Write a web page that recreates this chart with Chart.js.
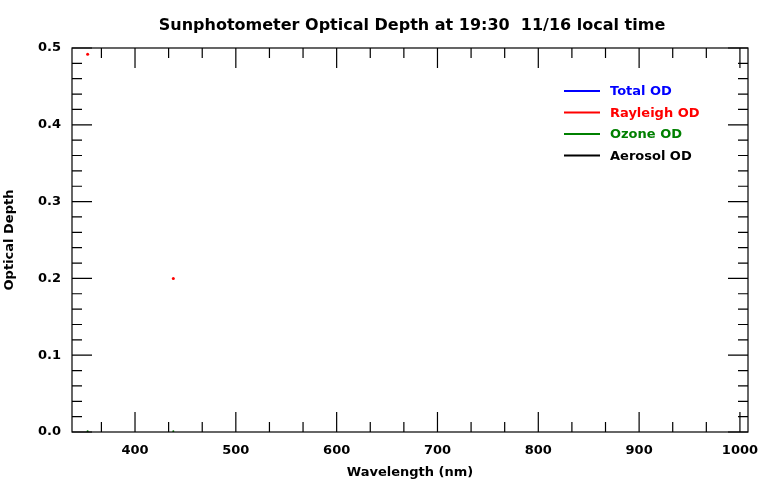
<!DOCTYPE html>
<html><head><meta charset="utf-8">
<script src="https://cdn.jsdelivr.net/npm/chart.js@4"></script>
<style>body{margin:0;background:#fff}#wrap{width:781px;height:480px}</style>
</head><body><div id="wrap"><canvas id="c"></canvas></div>
<script>
const rayleighNm = [353, 438];
const rayleighOD = [0.492, 0.2];
const ozoneNm = [353, 438];
const ozoneOD = [0.001, 0.001];
const seriesNames = ["Total OD", "Rayleigh OD", "Ozone OD", "Aerosol OD"];
const seriesColors = ["#0000ff", "#ff0000", "#008000", "#000000"];

const FONT = "DejaVu Sans";

/* inside ticks on all four sides, title, legend */
const decor = {
  id: "decor",
  afterDraw(ch) {
    const c = ch.ctx, a = ch.chartArea, x = ch.scales.x, y = ch.scales.y;
    c.save();
    c.strokeStyle = "#000"; c.lineWidth = 1.2;
    c.strokeRect(a.left, a.top, a.right - a.left, a.bottom - a.top);
    c.beginPath();
    for (let v = 300; v <= 1100; v += 100 / 3) {
      const px = x.getPixelForValue(v);
      if (px < a.left || px > a.right) continue;
      const major = Math.abs(v / 100 - Math.round(v / 100)) < 1e-6;
      const len = major ? 20 : 10;
      c.moveTo(px, a.bottom); c.lineTo(px, a.bottom - len);
      c.moveTo(px, a.top); c.lineTo(px, a.top + len);
    }
    for (let i = 0; i <= 25; i++) {
      const py = y.getPixelForValue(i * 0.02);
      const len = i % 5 === 0 ? 20 : 10;
      c.moveTo(a.left, py); c.lineTo(a.left + len, py);
      c.moveTo(a.right, py); c.lineTo(a.right - len, py);
    }
    c.stroke();
    c.fillStyle = "#000"; c.textAlign = "center"; c.textBaseline = "middle";
    c.font = "bold 16px " + FONT;
    c.fillText("Sunphotometer Optical Depth at 19:30  11/16 local time", 412, 26);
    c.font = "bold 13px " + FONT; c.textAlign = "left";
    seriesNames.forEach((n, i) => {
      const ly = 91 + i * 21.5;
      c.strokeStyle = seriesColors[i]; c.lineWidth = 2;
      c.beginPath(); c.moveTo(564, ly); c.lineTo(600, ly); c.stroke();
      c.fillStyle = seriesColors[i];
      c.fillText(n, 610, ly + 1);
    });
    c.restore();
  }
};

new Chart(document.getElementById("c"), {
  type: "scatter",
  data: {
    datasets: [
      { label: "Rayleigh OD", data: rayleighNm.map((v, i) => ({ x: v, y: rayleighOD[i] })),
        backgroundColor: "#ff0000", borderColor: "#ff0000", pointRadius: 1.5, pointBorderWidth: 0 },
      { label: "Ozone OD", data: ozoneNm.map((v, i) => ({ x: v, y: ozoneOD[i] })),
        backgroundColor: "#008000", borderColor: "#008000", pointRadius: 1, pointBorderWidth: 0 }
    ]
  },
  options: {
    responsive: true, maintainAspectRatio: false, animation: false,
    layout: { padding: { top: 48, right: 33, left: 0, bottom: 0 } },
    plugins: { legend: { display: false }, tooltip: { enabled: false } },
    scales: {
      x: {
        min: 337.5, max: 1008, afterFit: s => { s.height = 48; },
        grid: { display: false }, border: { display: false },
        ticks: { stepSize: 100, color: "#000", font: { family: FONT, size: 13, weight: "bold" }, maxRotation: 0,
          callback: v => (v % 100 === 0 ? v : "") },
        afterBuildTicks: s => { s.ticks = [400, 500, 600, 700, 800, 900, 1000].map(v => ({ value: v })); },
        title: { display: true, text: "Wavelength (nm)", color: "#000", padding: 0,
          font: { family: FONT, size: 13, weight: "bold" } }
      },
      y: {
        min: 0, max: 0.5, afterFit: s => { s.width = 72; },
        grid: { display: false }, border: { display: false },
        ticks: { stepSize: 0.1, color: "#000", font: { family: FONT, size: 13, weight: "bold" },
          callback: v => v.toFixed(1) },
        title: { display: true, text: "Optical Depth", color: "#000", padding: 2,
          font: { family: FONT, size: 13, weight: "bold" } }
      }
    }
  },
  plugins: [decor]
});
</script></body></html>
